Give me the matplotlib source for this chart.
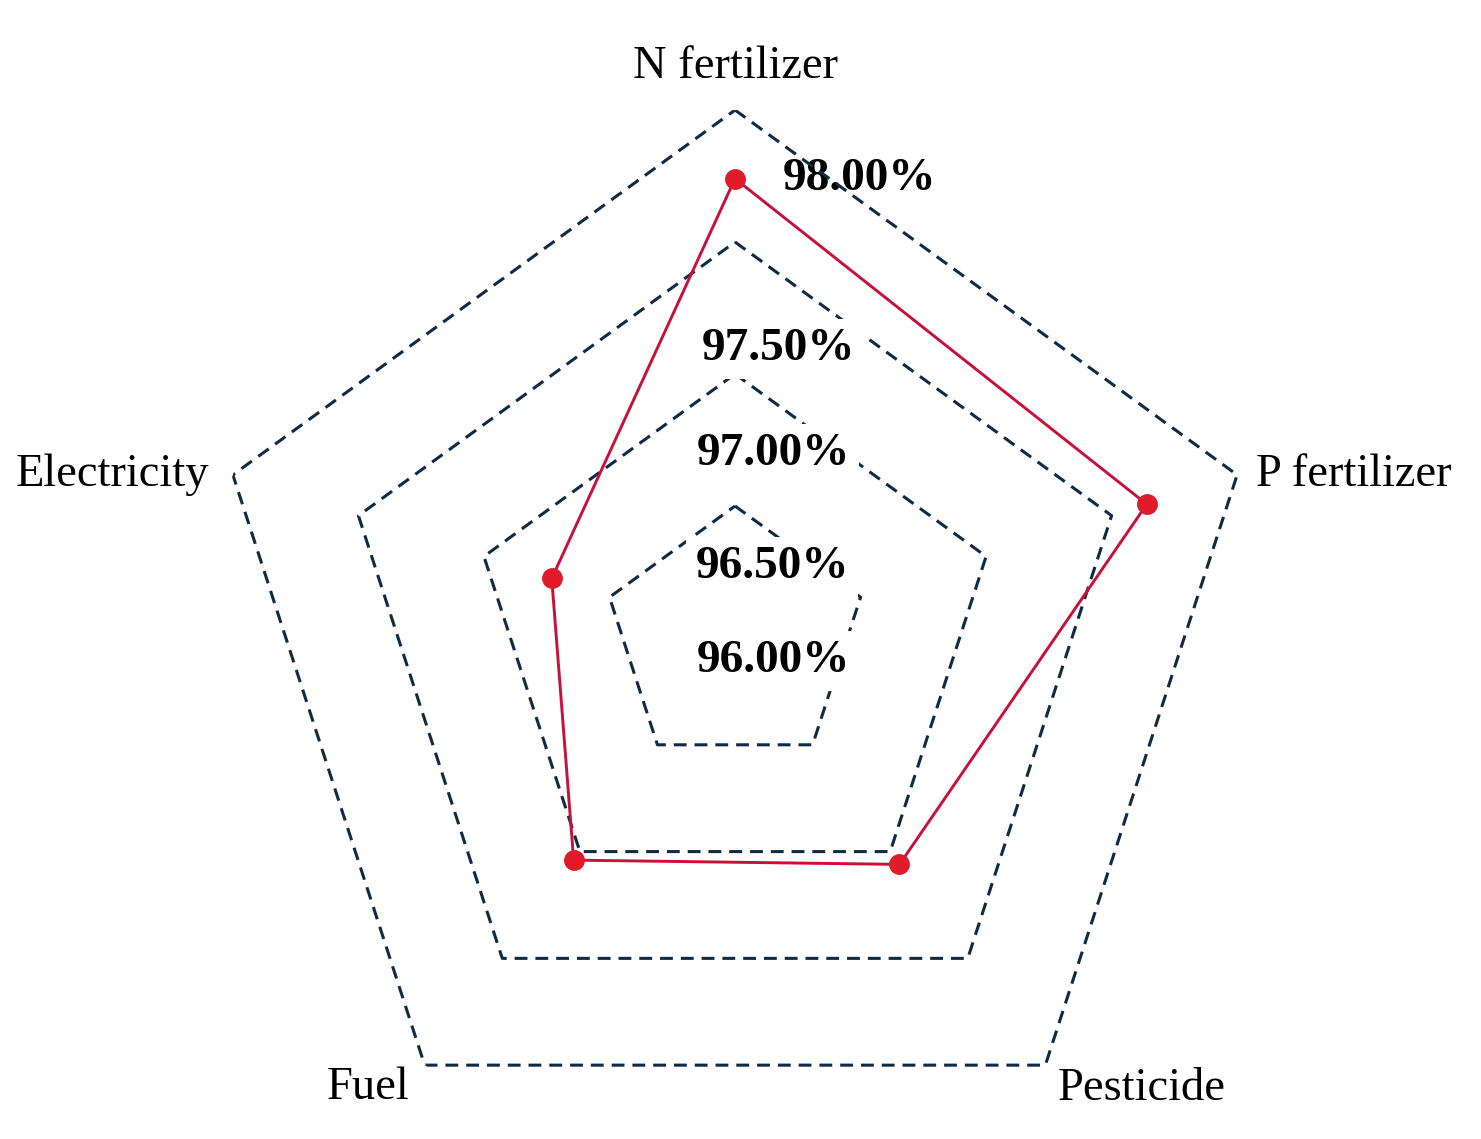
import numpy as np
import matplotlib
matplotlib.use('Agg')
import matplotlib.pyplot as plt

# 数据
categories = ['N fertilizer', 'P fertilizer', 'Pesticide', 'Fuel', 'Electricity']
values = [97.74, 97.64, 97.06, 97.04, 96.73]
ring_levels = [96.5, 97.0, 97.5, 98.0]
tick_values = [96.0, 96.5, 97.0, 97.5, 98.0]
tick_labels = ['96.00%', '96.50%', '97.00%', '97.50%', '98.00%']

r_min, r_max = 96.0, 98.0

plt.rcParams['font.family'] = ['Liberation Serif', 'DejaVu Serif']

fig = plt.figure(figsize=(14.81, 11.39), dpi=100)
ax = fig.add_axes([0.1398, -0.0237, 0.7130, 0.9271], projection='polar')
ax.set_theta_offset(np.pi / 2)
ax.set_theta_direction(-1)
ax.set_ylim(r_min, r_max)
ax.grid(False)
ax.spines['polar'].set_visible(False)
ax.set_xticks([])
ax.set_yticks([])

angles = np.linspace(0, 2 * np.pi, len(categories), endpoint=False)
closed = np.append(angles, angles[0])

# 五边形网格
for lvl in ring_levels:
    ax.plot(closed, [lvl] * len(closed), color='#0f2a44', lw=2.2,
            linestyle=(0, (4.2, 2.6)), zorder=2)

# 数据线
ax.plot(closed, values + values[:1], color='#c8103a', lw=2.1, zorder=5)
ax.plot(angles, values, 'o', color='#e01b2a', ms=14, zorder=6)

# 类别标签（偏移量单位：像素）
cat_offsets = [(0, 43), (19, 0), (12, -24), (-15, -23), (-24, 0)]
cat_ha = ['center', 'left', 'left', 'right', 'right']
for ang, name, (dx, dy), ha in zip(angles, categories, cat_offsets, cat_ha):
    ax.annotate(name, xy=(ang, r_max), xytext=(dx * 0.72, dy * 0.72),
                textcoords='offset points', ha=ha, va='center',
                fontsize=33.5, annotation_clip=False)

# 刻度标签
tick_offsets = [(38, -23), (37, -61), (38, -80), (43, -107), (124, -69)]
for v, lab, (dx, dy) in zip(tick_values, tick_labels, tick_offsets):
    box = None if v == r_max else dict(boxstyle='square,pad=0.2', fc='white', ec='none')
    ax.annotate(lab, xy=(0, v), xytext=(dx * 0.72, dy * 0.72),
                textcoords='offset points', ha='center', va='center',
                fontsize=34, fontweight='bold', bbox=box,
                zorder=3 if box else 1, annotation_clip=False)

fig.savefig('out.png', dpi=100)
